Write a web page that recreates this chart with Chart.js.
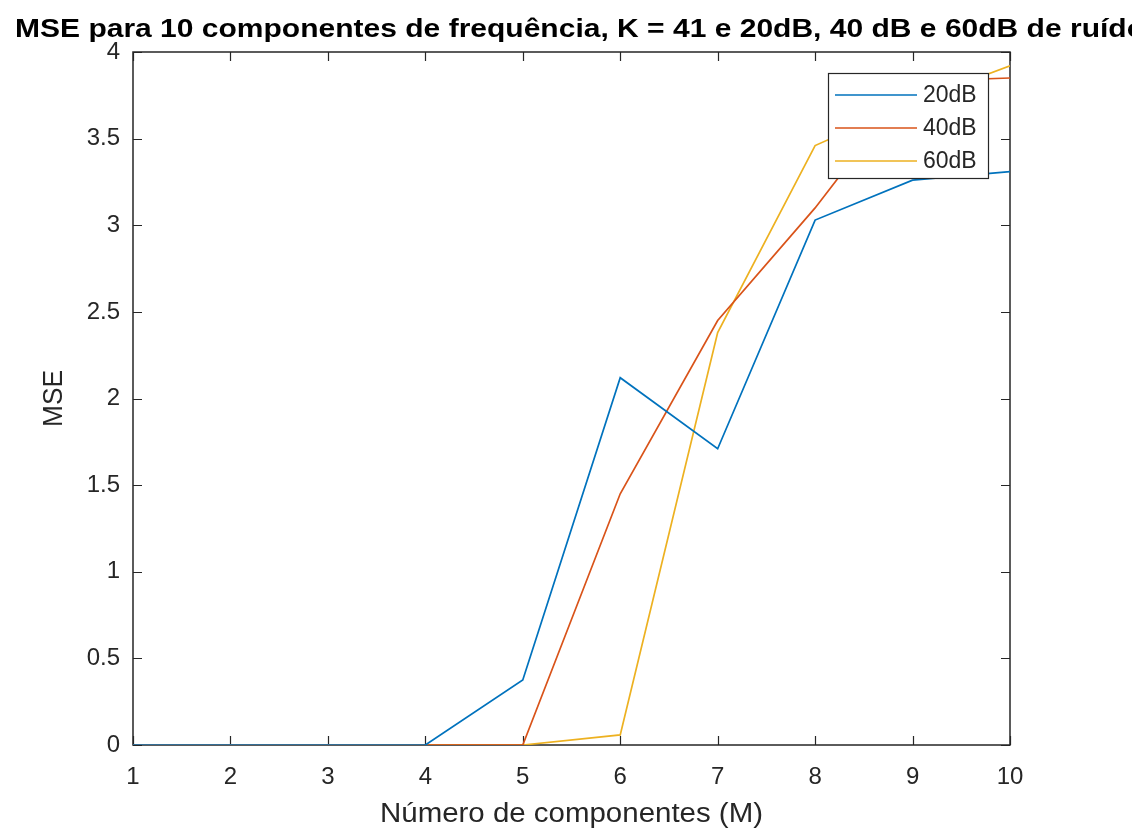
<!DOCTYPE html>
<html>
<head>
<meta charset="utf-8">
<script src="https://cdn.jsdelivr.net/npm/chart.js@4/dist/chart.umd.min.js"></script>
<style>
  html, body { margin: 0; padding: 0; background: #fff; }
  canvas { display: block; }
</style>
</head>
<body>
<canvas id="mse-chart" width="1132" height="836"></canvas>
<script>
// Number of components M (x axis)
const components = [1, 2, 3, 4, 5, 6, 7, 8, 9, 10];

// MSE per noise level
const mse20dB = [0, 0, 0, 0, 0.375, 2.12, 1.71, 3.03, 3.26, 3.31];
const mse40dB = [0, 0, 0, 0, 0, 1.45, 2.45, 3.10, 3.83, 3.85];
const mse60dB = [0, 0, 0, 0, 0, 0.058, 2.38, 3.46, 3.71, 3.92];

const seriesLabels = ['20dB', '40dB', '60dB'];
const seriesColors = ['#0072BD', '#D95319', '#EDB120'];

const xTicks = [1, 2, 3, 4, 5, 6, 7, 8, 9, 10];
const yTicks = [0, 0.5, 1, 1.5, 2, 2.5, 3, 3.5, 4];

const chartTitle = 'MSE para 10 componentes de frequência, K = 41 e 20dB, 40 dB e 60dB de ruído';
const xTitle = 'Número de componentes (M)';
const yTitle = 'MSE';

const axisColor = '#262626';
const fontFamily = '"Liberation Sans", Arial, Helvetica, sans-serif';

// Draw text squeezed/stretched so it covers a given width
function drawFitted(ctx, text, x, y, font, width, angle) {
  ctx.save();
  ctx.font = font;
  const w = ctx.measureText(text).width;
  ctx.translate(x, y);
  if (angle) ctx.rotate(angle);
  ctx.scale(width / w, 1);
  ctx.textAlign = 'center';
  ctx.textBaseline = 'alphabetic';
  ctx.fillText(text, 0, 0);
  ctx.restore();
}

// Box, inward tick marks on all four sides (drawn under the lines)
const matlabAxes = {
  id: 'matlabAxes',
  beforeDatasetsDraw(chart) {
    const { ctx, chartArea: a, scales } = chart;
    const tl = 9;
    ctx.save();
    ctx.strokeStyle = axisColor;
    ctx.lineWidth = 1.2;
    ctx.beginPath();
    xTicks.forEach((v) => {
      const px = Math.round(scales.x.getPixelForValue(v)) + 0.5;
      ctx.moveTo(px, a.bottom); ctx.lineTo(px, a.bottom - tl);
      ctx.moveTo(px, a.top); ctx.lineTo(px, a.top + tl);
    });
    yTicks.forEach((v) => {
      const py = Math.round(scales.y.getPixelForValue(v)) + 0.5;
      ctx.moveTo(a.left, py); ctx.lineTo(a.left + tl, py);
      ctx.moveTo(a.right, py); ctx.lineTo(a.right - tl, py);
    });
    ctx.stroke();
    ctx.lineWidth = 1.5;
    ctx.strokeRect(a.left, a.top, a.right - a.left, a.bottom - a.top);
    ctx.restore();
  },
  afterDraw(chart) {
    const { ctx, chartArea: a } = chart;
    ctx.save();
    ctx.fillStyle = '#000';
    // title runs past the right edge of the canvas
    drawFitted(ctx, chartTitle, 580, 37, 'bold 25px ' + fontFamily, 1130);
    ctx.fillStyle = axisColor;
    drawFitted(ctx, xTitle, (a.left + a.right) / 2, 822, '27px ' + fontFamily, 383);
    drawFitted(ctx, yTitle, 62, (a.top + a.bottom) / 2, '27px ' + fontFamily, 57, -Math.PI / 2);
    ctx.restore();
  },
};

// Boxed legend in the upper right corner of the axes
const boxLegend = {
  id: 'boxLegend',
  afterDatasetsDraw(chart) {
    const { ctx } = chart;
    const left = 828, top = 73, w = 160, h = 105;
    ctx.save();
    ctx.fillStyle = '#fff';
    ctx.fillRect(left, top, w, h);
    ctx.strokeStyle = axisColor;
    ctx.lineWidth = 1.2;
    ctx.strokeRect(left + 0.5, top + 0.5, w, h);
    ctx.font = '23px ' + fontFamily;
    ctx.textBaseline = 'middle';
    ctx.textAlign = 'left';
    chart.data.datasets.forEach((ds, i) => {
      const cy = top + 22 + i * 33;
      ctx.strokeStyle = ds.borderColor;
      ctx.lineWidth = 1.5;
      ctx.beginPath();
      ctx.moveTo(left + 7, cy);
      ctx.lineTo(left + 89, cy);
      ctx.stroke();
      ctx.fillStyle = axisColor;
      ctx.fillText(ds.label, left + 95, cy + 1);
    });
    ctx.restore();
  },
};

function toPoints(values) {
  return components.map((m, i) => ({ x: m, y: values[i] }));
}

function renderMseChart() {
  const ctx = document.getElementById('mse-chart').getContext('2d');
  const allSeries = [mse20dB, mse40dB, mse60dB];

  new Chart(ctx, {
    type: 'line',
    data: {
      datasets: allSeries.map((values, i) => ({
        label: seriesLabels[i],
        data: toPoints(values),
        borderColor: seriesColors[i],
        backgroundColor: seriesColors[i],
        borderWidth: 1.7,
        pointRadius: 0,
        tension: 0,
        fill: false,
      })),
    },
    options: {
      responsive: false,
      animation: false,
      layout: { padding: { left: 0, top: 52, right: 122, bottom: 0 } },
      scales: {
        x: {
          type: 'linear',
          min: 1,
          max: 10,
          afterBuildTicks: (s) => { s.ticks = xTicks.map((v) => ({ value: v })); },
          afterFit: (s) => { s.height = 91; },
          grid: { display: false, drawTicks: false },
          border: { display: false },
          ticks: {
            color: axisColor,
            padding: 18,
            maxRotation: 0,
            autoSkip: false,
            callback: (v) => String(v),
            font: { family: fontFamily, size: 24 },
          },
        },
        y: {
          type: 'linear',
          min: 0,
          max: 4,
          afterBuildTicks: (s) => { s.ticks = yTicks.map((v) => ({ value: v })); },
          afterFit: (s) => { s.width = 133; },
          grid: { display: false, drawTicks: false },
          border: { display: false },
          ticks: {
            color: axisColor,
            padding: 13,
            autoSkip: false,
            callback: (v) => String(v),
            font: { family: fontFamily, size: 24 },
          },
        },
      },
      plugins: {
        legend: { display: false },
        tooltip: { enabled: false },
      },
    },
    plugins: [matlabAxes, boxLegend],
  });
}

renderMseChart();
</script>
</body>
</html>
